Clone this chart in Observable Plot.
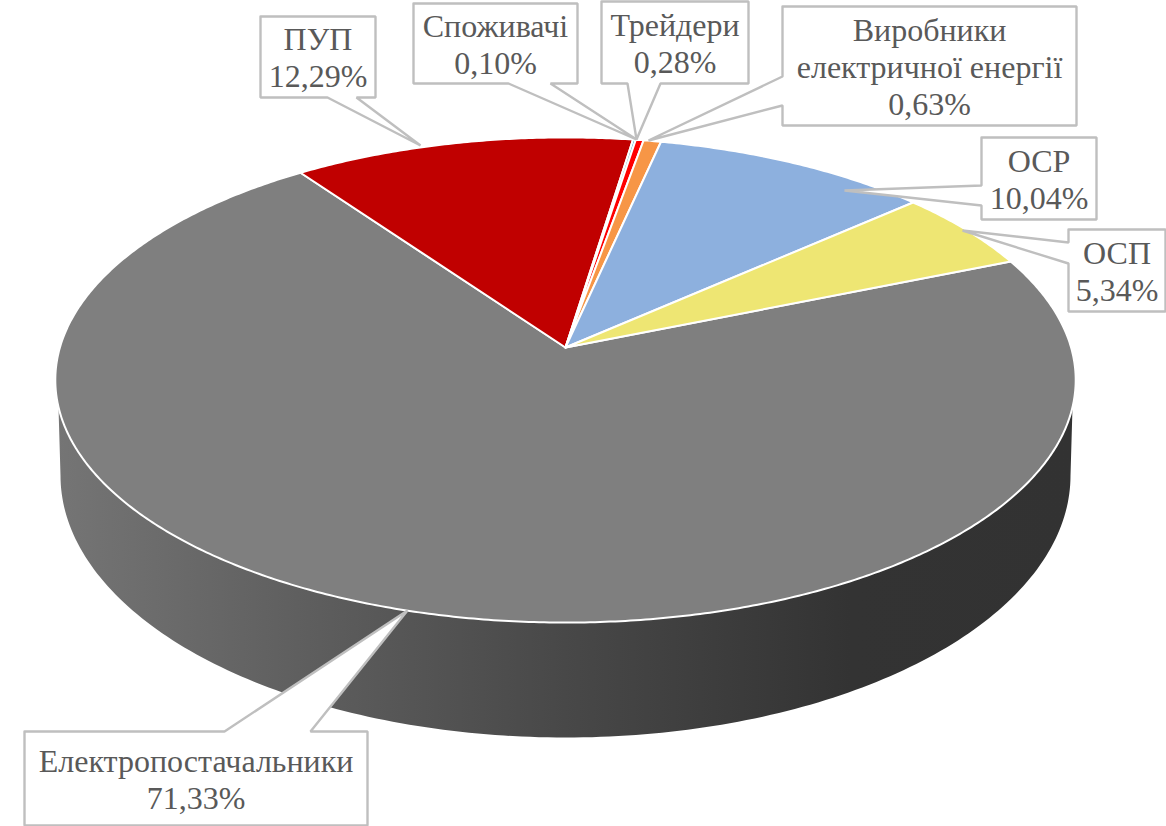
<!DOCTYPE html>
<html lang="uk">
<head>
<meta charset="utf-8">
<style>html,body{margin:0;padding:0;background:#fff}svg{display:block}</style>
<script src="https://cdn.jsdelivr.net/npm/d3@7"></script>
<script src="https://cdn.jsdelivr.net/npm/@observablehq/plot@0.6"></script>
</head>
<body>
<div id="chart"></div>
<script>
// ---- chart data ----
const categories = ["Електропостачальники", "ПУП", "Споживачі", "Трейдери", "Виробники\nелектричної енергії", "ОСР", "ОСП"];
const values = [71.33, 12.29, 0.10, 0.28, 0.63, 10.04, 5.34];
const sliceColors = ["#7f7f7f", "#c00000", "#4bacc6", "#ff0000", "#f79646", "#8db0de", "#eee673"];

// ---- layout of the callouts: box [x0,y0,x1,y1], side the pointer leaves from, pointer base, pointer tip ----
const calloutBoxes = [[24,731,367,825],[260,16,375,97],[413,3,577,83],[601,1,748,83],[782,6,1076,125],[981,137,1096,219],[1068,229,1165,311]];
const calloutSides = ["top","bottom","bottom","bottom","left","left","left"];
const calloutBases = [[224,310],[327,356],[508,550],[627,660],[76,105],[185,205],[242,263]];
const calloutTips = [[407,610],[420,145],[636,139],[636,139],[648,140],[844,190],[962,230]];

// ---- pie model: a tilted disc seen in perspective ----
const firstSliceAngle = 67.7, apexX = 565, apexY = 347, A = 505.6, B = 238.2, k = 0.134;
const rim = deg => {
  const t = deg * Math.PI / 180, u = Math.sin(t), v = -Math.cos(t), w = 1 - k * v;
  return {x: apexX + A * u / w, y: apexY + B * v / w};
};
const floor = deg => {
  const t = deg * Math.PI / 180;
  return {x: 565 + 505 * Math.sin(t), y: 475 - 262 * Math.cos(t)};
};
const total = d3.sum(values);
let cursor = firstSliceAngle;
const slicePoints = [];
categories.forEach((name, i) => {
  const a0 = cursor, a1 = cursor + values[i] / total * 360;
  cursor = a1;
  const n = Math.max(2, Math.ceil((a1 - a0) * 2));
  const pts = [{x: apexX, y: apexY}];
  for (let j = 0; j <= n; ++j) pts.push(rim(a0 + (a1 - a0) * j / n));
  pts.push({x: apexX, y: apexY});
  pts.forEach(p => slicePoints.push({...p, name, color: sliceColors[i]}));
});

const sidePoints = [];
for (let a = 104; a <= 256; a += 1) sidePoints.push(rim(a));
for (let a = 270; a >= 90; a -= 1) sidePoints.push(floor(a));

const calloutPoints = [];
calloutBoxes.forEach(([x0, y0, x1, y1], i) => {
  const [b0, b1] = calloutBases[i], [tx, ty] = calloutTips[i], name = categories[i];
  let pts;
  if (calloutSides[i] === "top") pts = [[x0,y0],[b0,y0],[tx,ty],[b1,y0],[x1,y0],[x1,y1],[x0,y1],[x0,y0]];
  else if (calloutSides[i] === "bottom") pts = [[x0,y0],[x1,y0],[x1,y1],[b1,y1],[tx,ty],[b0,y1],[x0,y1],[x0,y0]];
  else pts = [[x0,y0],[x1,y0],[x1,y1],[x0,y1],[x0,b1],[tx,ty],[x0,b0],[x0,y0]];
  pts.forEach(([x, y]) => calloutPoints.push({x, y, name}));
});

const labels = categories.map((name, i) => ({
  text: `${name}\n${values[i].toFixed(2).replace(".", ",")}%`,
  x: (calloutBoxes[i][0] + calloutBoxes[i][2]) / 2,
  y: (calloutBoxes[i][1] + calloutBoxes[i][3]) / 2
}));

const gradient = () => {
  const defs = d3.create("svg:defs");
  const g = defs.append("linearGradient").attr("id", "side-grad")
    .attr("gradientUnits", "userSpaceOnUse")
    .attr("x1", 55).attr("x2", 1074).attr("y1", 0).attr("y2", 0);
  [[0, "#757575"], [0.27, "#5c5c5c"], [0.5, "#484848"], [0.78, "#333333"], [1, "#323232"]]
    .forEach(([o, c]) => g.append("stop").attr("offset", o).attr("stop-color", c));
  return defs.node();
};

const chart = Plot.plot({
  width: 1166,
  height: 826,
  margin: 0,
  x: {domain: [0, 1166], axis: null},
  y: {domain: [826, 0], axis: null},
  color: {type: "identity"},
  style: {background: "#fff"},
  marks: [
    gradient,
    Plot.line(sidePoints, {x: "x", y: "y", fill: "url(#side-grad)", stroke: "none"}),
    Plot.line(slicePoints, {x: "x", y: "y", z: "name", fill: "color", stroke: "#fff", strokeWidth: 2, strokeLinejoin: "round"}),
    Plot.line(calloutPoints, {x: "x", y: "y", z: "name", fill: "#fff", stroke: "#bfbfbf", strokeWidth: 2.4, strokeLinejoin: "miter"}),
    Plot.text(labels, {x: "x", y: "y", text: "text", fontFamily: "Liberation Serif", fontSize: 32, lineHeight: 1.15, fill: "#595959"})
  ]
});
document.getElementById("chart").appendChild(chart);
</script>
</body>
</html>
